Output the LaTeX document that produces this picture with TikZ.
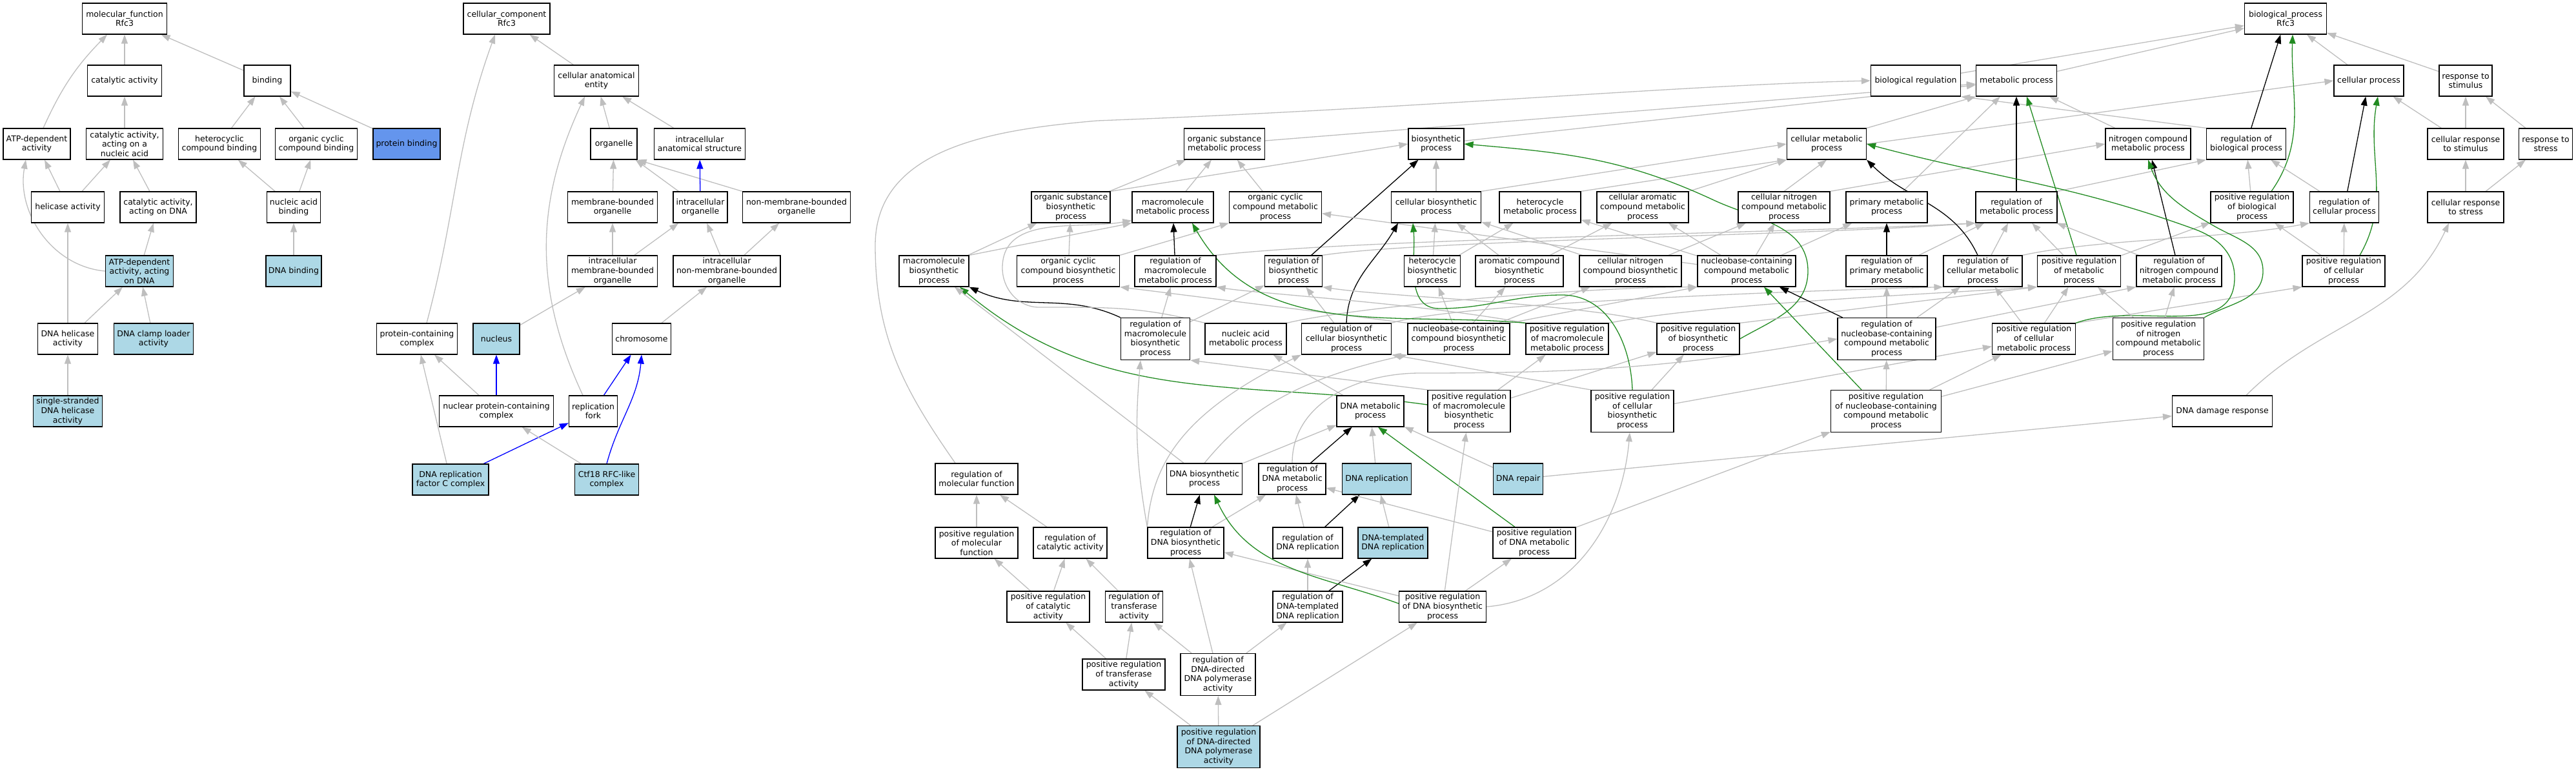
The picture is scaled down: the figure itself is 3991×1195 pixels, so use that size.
\documentclass[tikz,border=0pt]{standalone}
\usepackage{fontspec}
\setmainfont{DejaVu Sans}
\usetikzlibrary{arrows.meta,backgrounds}
\definecolor{edgegray}{RGB}{190,190,190}
\definecolor{hitblue}{RGB}{173,216,230}
\definecolor{protblue}{RGB}{100,149,237}
\definecolor{posgreen}{RGB}{34,139,34}
\tikzset{
	term/.style={draw=black, line width=1.2pt, fill=white, align=center, inner xsep=2pt, inner ysep=0pt, minimum height=48pt, font={\fontsize{12.5}{14.6}\selectfont}},
	hit/.style={term, fill=hitblue},
	tall/.style={minimum height=65pt},
	isa/.style={draw=edgegray, line width=1.3pt, -{Triangle[length=14pt,width=10pt]}},
	regby/.style={isa, draw=black},
	posreg/.style={isa, draw=posgreen},
	partof/.style={isa, draw=blue},
}

\begin{document}
\begin{tikzpicture}[x=1pt,y=1pt]
			%%%%% START %%%%%
			\useasboundingbox (0,0) rectangle (3991,-1195);
			
			% molecular function
			\node[term, minimum width=131pt] (mf) at (193,-29) {molecular\_function\\Rfc3};
			\node[term, minimum width=115pt] (catact) at (193,-125) {catalytic activity};
			\node[term, minimum width=72pt] (binding) at (414,-125) {binding};
			\node[term, minimum width=104pt] (atpdep) at (57,-223) {ATP-dependent\\activity};
			\node[term, minimum width=119pt] (catnuc) at (193,-223) {catalytic activity,\\acting on a\\nucleic acid};
			\node[term, minimum width=127pt] (hetbind) at (340,-223) {heterocyclic\\compound binding};
			\node[term, minimum width=127pt] (orgbind) at (490,-223) {organic cyclic\\compound binding};
			\node[term, fill=protblue, minimum width=104pt] (protbind) at (630,-223) {protein binding};
			\node[term, minimum width=113pt] (helic) at (105,-321) {helicase activity};
			\node[term, minimum width=118pt] (catdna) at (245,-321) {catalytic activity,\\acting on DNA};
			\node[term, minimum width=83pt] (nabind) at (455,-321) {nucleic acid\\binding};
			\node[hit, minimum width=105pt] (atpdna) at (216,-420) {ATP-dependent\\activity, acting\\on DNA};
			\node[hit, minimum width=86pt] (dnabind) at (455,-420) {DNA binding};
			\node[term, minimum width=93pt] (dnahel) at (105,-525) {DNA helicase\\activity};
			\node[hit, minimum width=123pt] (clamp) at (238,-525) {DNA clamp loader\\activity};
			\node[hit, minimum width=107pt] (sshel) at (105,-637) {single-stranded\\DNA helicase\\activity};
			
			% cellular component
			\node[term, minimum width=134pt] (cc) at (785,-29) {cellular\_component\\Rfc3};
			\node[term, minimum width=131pt] (cae) at (924,-125) {cellular anatomical\\entity};
			\node[term, minimum width=72pt] (organelle) at (951,-223) {organelle};
			\node[term, minimum width=141pt] (ias) at (1084,-223) {intracellular\\anatomical structure};
			\node[term, minimum width=139pt] (mbo) at (949,-321) {membrane-bounded\\organelle};
			\node[term, minimum width=84pt] (io) at (1085,-321) {intracellular\\organelle};
			\node[term, minimum width=167pt] (nmbo) at (1234,-321) {non-membrane-bounded\\organelle};
			\node[term, minimum width=139pt] (imbo) at (949,-420) {intracellular\\membrane-bounded\\organelle};
			\node[term, minimum width=166pt] (inmbo) at (1126,-420) {intracellular\\non-membrane-bounded\\organelle};
			\node[term, minimum width=125pt] (pcc) at (646,-525) {protein-containing\\complex};
			\node[hit, minimum width=72pt] (nucleus) at (769,-525) {nucleus};
			\node[term, minimum width=91pt] (chrom) at (994,-525) {chromosome};
			\node[term, minimum width=177pt] (npcc) at (769,-637) {nuclear protein-containing\\complex};
			\node[term, minimum width=75pt] (rfork) at (919,-637) {replication\\fork};
			\node[hit, minimum width=118pt] (rfc) at (698,-743) {DNA replication\\factor C complex};
			\node[hit, minimum width=99pt] (ctf) at (940,-743) {Ctf18 RFC-like\\complex};
			
			% biological process
			\node[term, minimum width=127pt] (bp) at (3541,-29) {biological\_process\\Rfc3};
			\node[term, minimum width=139pt] (bioreg) at (2968,-125) {biological regulation};
			\node[term, minimum width=125pt] (metab) at (3124,-125) {metabolic process};
			\node[term, minimum width=108pt] (cellproc) at (3670,-125) {cellular process};
			\node[term, minimum width=82pt] (respstim) at (3820,-125) {response to\\stimulus};
			
			\node[term, minimum width=125pt] (osmp) at (1897,-223) {organic substance\\metabolic process};
			\node[term, minimum width=86pt] (biosyn) at (2225,-223) {biosynthetic\\process};
			\node[term, minimum width=123pt] (cmp) at (2830,-223) {cellular metabolic\\process};
			\node[term, minimum width=132pt] (ncmp) at (3328,-223) {nitrogen compound\\metabolic process};
			\node[term, minimum width=123pt] (regbp) at (3480,-223) {regulation of\\biological process};
			\node[term, minimum width=118pt] (crstim) at (3820,-223) {cellular response\\to stimulus};
			\node[term, minimum width=83pt] (rstress) at (3944,-223) {response to\\stress};
			
			\node[term, minimum width=122pt] (osbp) at (1659,-321) {organic substance\\biosynthetic\\process};
			\node[term, minimum width=126pt] (mmp) at (1817,-321) {macromolecule\\metabolic process};
			\node[term, minimum width=143pt] (occmp) at (1976,-321) {organic cyclic\\compound metabolic\\process};
			\node[term, minimum width=139pt] (cbp) at (2225,-321) {cellular biosynthetic\\process};
			\node[term, minimum width=126pt] (hmp) at (2386,-321) {heterocycle\\metabolic process};
			\node[term, minimum width=142pt] (camp) at (2545,-321) {cellular aromatic\\compound metabolic\\process};
			\node[term, minimum width=142pt] (cnmp) at (2764,-321) {cellular nitrogen\\compound metabolic\\process};
			\node[term, minimum width=126pt] (pmp) at (2923,-321) {primary metabolic\\process};
			\node[term, minimum width=126pt] (regmp) at (3124,-321) {regulation of\\metabolic process};
			\node[term, minimum width=128pt] (pregbp) at (3489,-321) {positive regulation\\of biological\\process};
			\node[term, minimum width=107pt] (regcp) at (3632,-321) {regulation of\\cellular process};
			\node[term, minimum width=118pt] (crstress) at (3820,-321) {cellular response\\to stress};
			
			\node[term, minimum width=108pt] (mbp) at (1447,-420) {macromolecule\\biosynthetic\\process};
			\node[term, minimum width=159pt] (occbp) at (1655,-420) {organic cyclic\\compound biosynthetic\\process};
			\node[term, minimum width=126pt] (regmmp) at (1821,-420) {regulation of\\macromolecule\\metabolic process};
			\node[term, minimum width=89pt] (regbio) at (2004,-420) {regulation of\\biosynthetic\\process};
			\node[term, minimum width=87pt] (hbp) at (2219,-420) {heterocycle\\biosynthetic\\process};
			\node[term, minimum width=136pt] (acbp) at (2354,-420) {aromatic compound\\biosynthetic\\process};
			\node[term, minimum width=158pt] (cncbp) at (2526,-420) {cellular nitrogen\\compound biosynthetic\\process};
			\node[term, minimum width=152pt] (nbcmp) at (2706,-420) {nucleobase-containing\\compound metabolic\\process};
			\node[term, minimum width=126pt] (regpmp) at (2923,-420) {regulation of\\primary metabolic\\process};
			\node[term, minimum width=122pt] (regcmp) at (3072,-420) {regulation of\\cellular metabolic\\process};
			\node[term, minimum width=129pt] (pregmp) at (3221,-420) {positive regulation\\of metabolic\\process};
			\node[term, minimum width=132pt] (regncmp) at (3376,-420) {regulation of\\nitrogen compound\\metabolic process};
			\node[term, minimum width=128pt] (pregcp) at (3631,-420) {positive regulation\\of cellular\\process};
			
			\node[term, tall, minimum width=107pt] (regmbp) at (1790,-525) {regulation of\\macromolecule\\biosynthetic\\process};
			\node[term, minimum width=126pt] (namp) at (1930,-525) {nucleic acid\\metabolic process};
			\node[term, minimum width=139pt] (regcbp) at (2086,-525) {regulation of\\cellular biosynthetic\\process};
			\node[term, minimum width=158pt] (nbcbp) at (2260,-525) {nucleobase-containing\\compound biosynthetic\\process};
			\node[term, minimum width=128pt] (pregmmp) at (2428,-525) {positive regulation\\of macromolecule\\metabolic process};
			\node[term, minimum width=128pt] (pregbio) at (2631,-525) {positive regulation\\of biosynthetic\\process};
			\node[term, tall, minimum width=152pt] (regnbc) at (2923,-525) {regulation of\\nucleobase-containing\\compound metabolic\\process};
			\node[term, minimum width=129pt] (pregcmp) at (3151,-525) {positive regulation\\of cellular\\metabolic process};
			\node[term, tall, minimum width=141pt] (pregncmp) at (3344,-525) {positive regulation\\of nitrogen\\compound metabolic\\process};
			
			\node[term, minimum width=104pt] (dnamp) at (2123,-637) {DNA metabolic\\process};
			\node[term, tall, minimum width=128pt] (pregmbp) at (2276,-637) {positive regulation\\of macromolecule\\biosynthetic\\process};
			\node[term, tall, minimum width=128pt] (pregcbp) at (2529,-637) {positive regulation\\of cellular\\biosynthetic\\process};
			\node[term, tall, minimum width=171pt] (pregnbc) at (2922,-637) {positive regulation\\of nucleobase-containing\\compound metabolic\\process};
			\node[term, minimum width=155pt] (ddr) at (3443,-637) {DNA damage response};
			
			\node[term, minimum width=128pt] (regmf) at (1513,-742) {regulation of\\molecular function};
			\node[term, minimum width=117pt] (dnabp) at (1866,-742) {DNA biosynthetic\\process};
			\node[term, minimum width=104pt] (regdnamp) at (2002,-742) {regulation of\\DNA metabolic\\process};
			\node[hit, minimum width=107pt] (dnarep) at (2133,-742) {DNA replication};
			\node[hit, minimum width=77pt] (dnarepair) at (2352,-742) {DNA repair};
			
			\node[term, minimum width=128pt] (pregmf) at (1513,-841) {positive regulation\\of molecular\\function};
			\node[term, minimum width=114pt] (regcat) at (1658,-841) {regulation of\\catalytic activity};
			\node[term, minimum width=118pt] (regdnabp) at (1837,-841) {regulation of\\DNA biosynthetic\\process};
			\node[term, minimum width=108pt] (regdnarep) at (2026,-841) {regulation of\\DNA replication};
			\node[hit, minimum width=108pt] (dtdr) at (2158,-841) {DNA-templated\\DNA replication};
			\node[term, minimum width=128pt] (pregdnamp) at (2377,-841) {positive regulation\\of DNA metabolic\\process};
			
			\node[term, minimum width=128pt] (pregcat) at (1624,-940) {positive regulation\\of catalytic\\activity};
			\node[term, minimum width=89pt] (regtrans) at (1757,-940) {regulation of\\transferase\\activity};
			\node[term, minimum width=108pt] (regdtdr) at (2026,-940) {regulation of\\DNA-templated\\DNA replication};
			\node[term, minimum width=135pt] (pregdnabp) at (2235,-940) {positive regulation\\of DNA biosynthetic\\process};
			
			\node[term, minimum width=128pt] (pregtrans) at (1741,-1045) {positive regulation\\of transferase\\activity};
			\node[term, tall, minimum width=116pt] (regpol) at (1887,-1045) {regulation of\\DNA-directed\\DNA polymerase\\activity};
			
			\node[hit, tall, minimum width=128pt] (pregpol) at (1888,-1157) {positive regulation\\of DNA-directed\\DNA polymerase\\activity};
			
			\begin{scope}[on background layer]
			% molecular function edges
			\draw[isa] (catact) -- (mf);
			\draw[isa] ([xshift=10pt]atpdep.north) to[bend left=10] ([xshift=-27pt]mf.south);
			\draw[isa] (binding) -- (mf);
			\draw[isa] (catnuc) -- (catact);
			\draw[isa] (hetbind) -- (binding);
			\draw[isa] (orgbind) -- (binding);
			\draw[isa] (protbind) -- (binding);
			\draw[isa] (helic) -- (atpdep);
			\draw[isa] (helic) -- (catnuc);
			\draw[isa] (catdna) -- (catnuc);
			\draw[isa] (nabind) -- (hetbind);
			\draw[isa] (nabind) -- (orgbind);
			\draw[isa] (dnabind) -- (nabind);
			\draw[isa] (atpdna.west) to[out=175,in=-100] ([xshift=-17pt]atpdep.south);
			\draw[isa] (atpdna) -- (catdna);
			\draw[isa] (dnahel) -- (helic);
			\draw[isa] (dnahel) -- (atpdna);
			\draw[isa] (clamp) -- (atpdna);
			\draw[isa] (sshel) -- (dnahel);
			
			% cellular component edges
			\draw[isa] (cae) -- (cc);
			\draw[isa] ([xshift=15pt]pcc.north) to[out=75,in=-110] ([xshift=-18pt]cc.south);
			\draw[isa] (organelle) -- (cae);
			\draw[isa] (ias) -- (cae);
			\draw[isa] ([xshift=-16pt]rfork.north) to[out=115,in=-115] ([xshift=-18pt]cae.south);
			\draw[isa] (mbo) -- (organelle);
			\draw[isa] (io) -- (organelle);
			\draw[isa] (nmbo.north west) -- (organelle.south east);
			\draw[partof] (io) -- (ias);
			\draw[isa] (imbo) -- (mbo);
			\draw[isa] (imbo) -- (io);
			\draw[isa] (inmbo) -- (io);
			\draw[isa] (inmbo) -- (nmbo);
			\draw[isa] (nucleus) -- (imbo);
			\draw[isa] (chrom) -- (inmbo);
			\draw[isa] (npcc) -- (pcc);
			\draw[partof] (npcc) -- (nucleus);
			\draw[partof] (rfork) -- (chrom);
			\draw[isa] (rfc) -- (pcc);
			\draw[partof] (rfc) -- (rfork);
			\draw[isa] (ctf) -- (npcc);
			\draw[partof] (ctf.north) to[out=75,in=-95] (chrom.south);
			
			% biological process edges
			\draw[isa] (bioreg) -- (bp);
			\draw[isa] (metab) -- (bp);
			\draw[isa] (cellproc) -- (bp);
			\draw[isa] (respstim) -- (bp);
			
			\draw[isa] (osmp) -- (metab);
			\draw[isa] (biosyn) -- (metab);
			\draw[isa] (cmp.north east) -- (metab.south west);
			\draw[isa] (cmp.east) -- (cellproc.west);
			\draw[isa] (ncmp) -- (metab);
			\draw[isa] (regbp.north west) -- (bioreg.south east);
			\draw[regby] (regbp) -- (bp);
			\draw[isa] (crstim) -- (respstim);
			\draw[isa] (crstim) -- (cellproc);
			\draw[isa] (rstress) -- (respstim);
			
			\draw[isa] (osbp) -- (osmp);
			\draw[isa] (osbp.north east) -- (biosyn.west);
			\draw[isa] (mmp) -- (osmp);
			\draw[isa] (occmp) -- (osmp);
			\draw[isa] (cbp) -- (biosyn);
			\draw[isa] (cbp.north east) -- (cmp.west);
			\draw[isa] (hmp.north east) -- (cmp.south west);
			\draw[isa] (camp.north east) -- (cmp.south west);
			\draw[isa] (cnmp.north) -- (cmp.south);
			\draw[isa] (cnmp.north east) -- (ncmp.west);
			\draw[isa] (pmp) -- (metab);
			\draw[regby] (regmp) -- (metab);
			\draw[isa] (regmp.north east) -- (regbp.south west);
			\draw[isa] (pregbp) -- (regbp);
			\draw[posreg] ([xshift=30pt]pregbp.north) to[out=55,in=-92] ([xshift=11pt]bp.south);
			\draw[isa] (regcp) -- (regbp);
			\draw[regby] (regcp) -- (cellproc);
			\draw[isa] (crstress) -- (crstim);
			\draw[isa] (crstress) -- (rstress);
			
			\draw[isa] (mbp) -- (osbp);
			\draw[isa] (mbp.north east) -- (mmp.south west);
			\draw[isa] (occbp) -- (osbp);
			\draw[isa] (occbp.north east) -- (occmp.south west);
			\draw[regby] (regmmp) -- (mmp);
			\draw[isa] (regmmp.north east) .. controls (2100,-370) and (2800,-360) .. (regmp.south west);
			\draw[regby] (regbio) -- (biosyn);
			\draw[isa] (regbio.north east) .. controls (2200,-372) and (2800,-365) .. (regmp.south west);
			\draw[isa] (hbp) -- (cbp);
			\draw[isa] (hbp) -- (hmp);
			\draw[isa] (acbp) -- (cbp);
			\draw[isa] (acbp) -- (camp);
			\draw[isa] (cncbp) -- (cnmp);
			\draw[isa] (cncbp) -- (cbp);
			\draw[isa] (nbcmp) -- (hmp);
			\draw[isa] (nbcmp) -- (camp);
			\draw[isa] (nbcmp) -- (cnmp);
			\draw[isa] (nbcmp) -- (occmp);
			\draw[isa] (nbcmp) -- (pmp);
			\draw[regby] (regpmp) -- (pmp);
			\draw[isa] (regpmp) -- (regmp);
			\draw[isa] (regcmp) -- (regmp);
			\draw[regby] ([xshift=-8pt]regcmp.north) to[out=115,in=-45] (cmp.south east);
			\draw[isa] (regcmp.north east) .. controls (3250,-370) and (3450,-370) .. (regcp.south west);
			\draw[isa] (pregmp) -- (regmp);
			\draw[isa] (pregmp) -- (pregbp);
			\draw[posreg] ([xshift=-4pt]pregmp.north) -- ([xshift=16pt]metab.south);
			\draw[isa] (regncmp) -- (regmp);
			\draw[regby] (regncmp) -- (ncmp);
			\draw[isa] (pregcp) -- (regcp);
			\draw[isa] (pregcp) -- (pregbp);
			\draw[posreg] ([xshift=25pt]pregcp.north) to[out=60,in=-100] ([xshift=14pt]cellproc.south);
			
			\draw[regby] (regmbp.north west) to[out=155,in=-25] (mbp.south east);
			\draw[isa] (regmbp) -- (regmmp);
			\draw[isa] (regmbp) -- (regbio);
			\draw[isa] (namp.north west) to[out=165,in=0] (1610,-476) to[out=180,in=-90] (1553,-415) to[out=90,in=190] ([yshift=4pt]mmp.south west);
			\draw[isa] (namp.north east) .. controls (2100,-475) and (2450,-445) .. (nbcmp.south west);
			\draw[isa] (regcbp) -- (regbio);
			\draw[regby] (regcbp.north) to[out=88,in=-120] ([xshift=-59pt]cbp.south);
			\draw[isa] (regcbp.north east) .. controls (2250,-470) and (2800,-450) .. (regcmp.south west);
			\draw[isa] (nbcbp) -- (acbp);
			\draw[isa] (nbcbp) -- (cncbp);
			\draw[isa] (nbcbp) -- (hbp);
			\draw[isa] (nbcbp.north east) -- (nbcmp.south west);
			\draw[isa] (nbcbp.north west) -- (occbp.south east);
			\draw[isa] (pregmmp.north west) .. controls (2200,-470) and (1950,-455) .. (regmmp.south east);
			\draw[posreg] (pregmmp.north west) to[out=175,in=-60] ([xshift=30pt]mmp.south);
			\draw[isa] (pregmmp.north east) .. controls (2650,-470) and (3000,-455) .. (pregmp.south west);
			\draw[isa] (pregbio.north west) .. controls (2450,-470) and (2150,-460) .. (regbio.south east);
			\draw[posreg] (pregbio.east) to[out=30,in=-90] (2801,-420) to[out=90,in=-25] (2655,-310) to[out=155,in=-5] (biosyn.east);
			\draw[isa] (pregbio.north east) -- (pregmp.south west);
			\draw[regby] (regnbc) -- (nbcmp);
			\draw[isa] (regnbc) -- (regpmp);
			\draw[isa] (regnbc) -- (regcmp);
			\draw[isa] ([yshift=18pt]regnbc.east) -- (regncmp.south west);
			\draw[isa] (pregcmp) -- (regcmp);
			\draw[isa] (pregcmp) -- (pregmp);
			\draw[isa] (pregcmp.north east) -- (pregcp.south west);
			\draw[posreg] (pregcmp.north east) to[out=20,in=-90] (3462,-430) to[out=90,in=-20] (3400,-355) to[out=160,in=-15] (cmp.east);
			\draw[isa] (pregncmp) -- (regncmp);
			\draw[isa] (pregncmp) -- (pregmp);
			\draw[posreg] (pregncmp.north east) to[out=30,in=-90] (3506,-420) to[out=90,in=-30] (3430,-350) to[out=150,in=-70] (ncmp.south);
			
			\draw[isa] (dnamp) -- (namp);
			\draw[isa] (pregmbp.north west) -- (regmbp.south east);
			\draw[posreg] ([yshift=10pt]pregmbp.west) to[out=172,in=-40] ([xshift=40pt]mbp.south);
			\draw[isa] (pregmbp) -- (pregmmp);
			\draw[isa] (pregmbp) -- (pregbio);
			\draw[isa] (pregcbp.north west) -- (regcbp.south east);
			\draw[posreg] (pregcbp.north) to[out=92,in=0] (2420,-457) to[out=180,in=0] (2230,-478) to[out=180,in=-85] ([xshift=-36pt]cbp.south);
			\draw[isa] (pregcbp) -- (pregbio);
			\draw[isa] (pregcbp) -- (pregcmp);
			\draw[isa] (pregnbc) -- (regnbc);
			\draw[posreg] ([xshift=-38pt]pregnbc.north) -- ([xshift=27pt]nbcmp.south);
			\draw[isa] (pregnbc) -- (pregcmp);
			\draw[isa] (pregnbc) -- (pregncmp);
			\draw[isa] ([xshift=37pt]ddr.north) to[out=45,in=-115] ([xshift=-26pt]crstress.south);
			
			\draw[isa] ([xshift=-33pt]regmf.north) to[out=125,in=-90] (1356,-380) to[out=90,in=185] (1700,-187) .. controls (2200,-168) and (2600,-132) .. (bioreg.west);
			\draw[isa] (dnabp) -- (dnamp);
			\draw[isa] (dnabp.north) .. controls (1930,-640) and (2000,-590) .. (nbcbp.south west);
			\draw[isa] (dnabp) -- (mbp);
			\draw[regby] (regdnamp) -- (dnamp);
			\draw[isa] (regdnamp.north) to[out=90,in=180] (2200,-578) to[out=0,in=190] (regnbc.west);
			\draw[isa] (dnarep) -- (dnamp);
			\draw[isa] (dnarepair) -- (dnamp);
			\draw[isa] (dnarepair) -- (ddr);
			
			\draw[isa] (pregmf) -- (regmf);
			\draw[isa] (regcat) -- (regmf);
			\draw[regby] (regdnabp) -- (dnabp);
			\draw[isa] (regdnabp) -- (regdnamp);
			\draw[isa] (regdnabp.north west) to[out=100,in=-95] ([xshift=-23pt]regmbp.south);
			\draw[isa] (regdnabp.north west) .. controls (1785,-720) and (1830,-640) .. (regcbp.south west);
			\draw[regby] (regdnarep) -- (dnarep);
			\draw[isa] (regdnarep) -- (regdnamp);
			\draw[isa] (dtdr) -- (dnarep);
			\draw[isa] (pregdnamp) -- (regdnamp);
			\draw[posreg] ([xshift=-30pt]pregdnamp.north) -- ([xshift=12pt]dnamp.south);
			\draw[isa] (pregdnamp) -- (pregnbc);
			
			\draw[isa] (pregcat) -- (pregmf);
			\draw[isa] (pregcat) -- (regcat);
			\draw[isa] (regtrans) -- (regcat);
			\draw[isa] (regdtdr) -- (regdnarep);
			\draw[regby] (regdtdr) -- (dtdr);
			\draw[isa] (pregdnabp) -- (regdnabp);
			\draw[posreg] ([yshift=5pt]pregdnabp.west) to[out=160,in=-65] ([xshift=15pt]dnabp.south);
			\draw[isa] (pregdnabp) -- (pregdnamp);
			\draw[isa] (pregdnabp.east) to[out=5,in=-95] ([xshift=-4pt]pregcbp.south);
			\draw[isa] (pregdnabp) -- (pregmbp);
			
			\draw[isa] (pregtrans) -- (pregcat);
			\draw[isa] (pregtrans) -- (regtrans);
			\draw[isa] (regpol) -- (regtrans);
			\draw[isa] (regpol) -- (regdnabp);
			\draw[isa] (regpol) -- (regdtdr);
			
			\draw[isa] (pregpol) -- (pregtrans);
			\draw[isa] (pregpol) -- (regpol);
			\draw[isa] (pregpol) -- (pregdnabp);
			\end{scope}
			
			%%%%% END %%%%%
\end{tikzpicture}
\end{document}
